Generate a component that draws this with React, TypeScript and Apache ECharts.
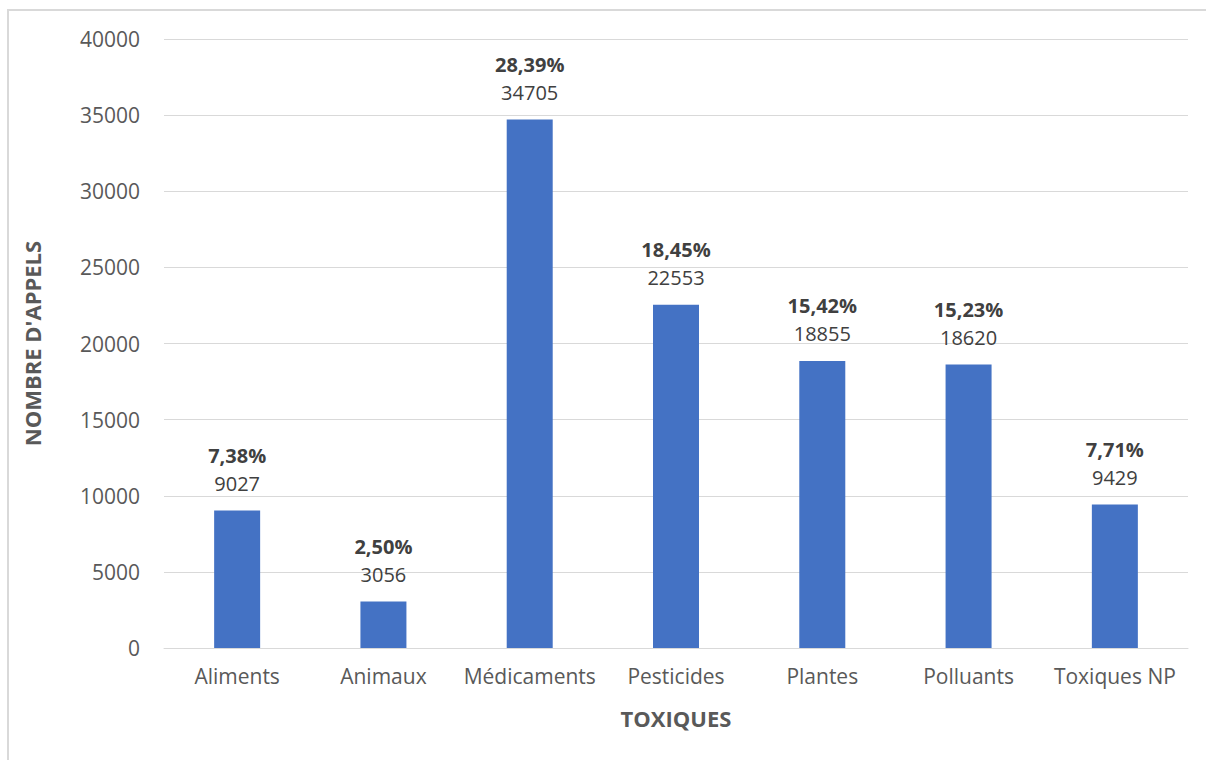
import React, { useEffect, useRef } from "react";
import * as echarts from "echarts";

const categories = ["Aliments", "Animaux", "Médicaments", "Pesticides", "Plantes", "Polluants", "Toxiques NP"];
const calls = [9027, 3056, 34705, 22553, 18855, 18620, 9429];
const percents = ["7,38%", "2,50%", "28,39%", "18,45%", "15,42%", "15,23%", "7,71%"];
const yTicks = { min: 0, max: 40000, interval: 5000 };

const FONT = "'Open Sans', sans-serif";

export default function App() {
  const ref = useRef<HTMLDivElement>(null);
  useEffect(() => {
    if (!ref.current) return;
    const chart = echarts.init(ref.current, undefined, { renderer: "svg" });
    chart.setOption({
      animation: false,
      textStyle: { fontFamily: FONT },
      grid: { left: 155, right: 10, top: 28, bottom: 123 },
      xAxis: {
        type: "category",
        data: categories,
        axisLine: { lineStyle: { color: "#d9d9d9", width: 1 } },
        axisTick: { show: false },
        axisLabel: { color: "#595959", fontSize: 21, fontFamily: FONT, margin: 17, interval: 0 },
        name: "TOXIQUES",
        nameLocation: "middle",
        nameGap: 59,
        nameTextStyle: { color: "#595959", fontSize: 22, fontWeight: "bold", fontFamily: FONT },
      },
      yAxis: {
        type: "value",
        min: yTicks.min,
        max: yTicks.max,
        interval: yTicks.interval,
        axisLine: { show: false },
        axisTick: { show: false },
        splitLine: { lineStyle: { color: "#d9d9d9", width: 1 } },
        axisLabel: { color: "#595959", fontSize: 21, fontFamily: FONT, margin: 24, formatter: (v: number) => String(v) },
        name: "NOMBRE D'APPELS",
        nameLocation: "middle",
        nameGap: 121,
        nameTextStyle: { color: "#595959", fontSize: 22, fontWeight: "bold", fontFamily: FONT },
      },
      series: [
        {
          type: "bar",
          data: calls,
          barWidth: 46,
          itemStyle: { color: "#4472C4" },
          label: {
            show: true,
            position: "top",
            distance: 13,
            formatter: (p: any) => `{p|${percents[p.dataIndex]}}\n{v|${p.value}}`,
            rich: {
              p: { fontSize: 20, fontWeight: "bold", color: "#404040", fontFamily: FONT, lineHeight: 28 },
              v: { fontSize: 20, color: "#404040", fontFamily: FONT, lineHeight: 28 },
            },
          },
        },
      ],
    });
    return () => chart.dispose();
  }, []);
  return (
    <div
      style={{
        position: "absolute",
        left: 7,
        top: 9,
        width: 1220,
        height: 770,
        border: "2px solid #d9d9d9",
        boxSizing: "border-box",
        background: "#fff",
      }}
    >
      <div ref={ref} style={{ position: "absolute", left: 0, top: 0, width: 1189, height: 760 }} />
    </div>
  );
}
